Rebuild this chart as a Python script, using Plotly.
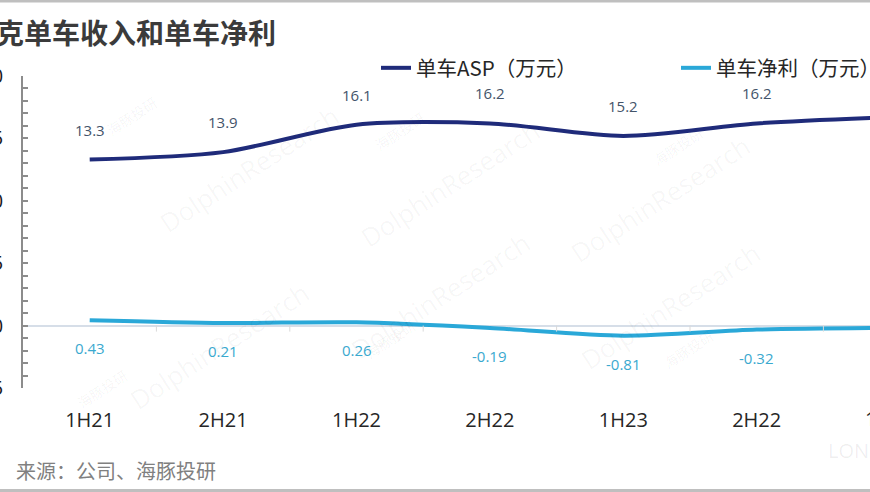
import plotly.graph_objects as go

# ---------------- data ----------------
periods = ["1H21", "2H21", "1H22", "2H22", "1H23", "2H22", "1H24"]
asp = [13.3, 13.9, 16.1, 16.2, 15.2, 16.2, 16.7]          # 单车ASP（万元）
net = [0.43, 0.21, 0.26, -0.19, -0.81, -0.32, -0.18]     # 单车净利（万元）
asp_labels = ["13.3", "13.9", "16.1", "16.2", "15.2", "16.2", "16.7"]
net_labels = ["0.43", "0.21", "0.26", "-0.19", "-0.81", "-0.32", "-0.18"]
y_ticks = [-5, 0, 5, 10, 15, 20]

title_text = "领克单车收入和单车净利"
source_text = "来源：公司、海豚投研"
name_asp = "单车ASP（万元）"
name_net = "单车净利（万元）"

# ---------------- layout geometry ----------------
W, H = 870, 492
ML, MR, MT, MB = 23, 0, 76, 104
PW = W - ML - MR
PH = H - MT - MB
STEP = 133.4                     # px per category
X0 = -0.5
X1 = X0 + PW / STEP

def px_x(p):
    return (p - ML) / PW

def px_y(p):
    return (H - MB - p) / PH

FONT = "Open Sans, Noto Sans CJK SC, sans-serif"
CJK = "Noto Sans CJK SC"
C_ASP = "#1f2b7a"
C_NET = "#2aa8d8"
idx = list(range(len(periods)))

fig = go.Figure()
fig.add_trace(go.Scatter(x=idx, y=asp, name=name_asp, mode="lines", legend="legend",
                         line=dict(color=C_ASP, width=4, shape="spline", smoothing=0.8)))
fig.add_trace(go.Scatter(x=idx, y=net, name=name_net, mode="lines", legend="legend2",
                         line=dict(color=C_NET, width=4, shape="spline", smoothing=0.8)))

ann = []
# watermarks (drawn first, very faint)
wm_pos = [(150, 95), (450, 110), (760, 125), (120, 420), (440, 370), (770, 380)]
for (wx, wy) in wm_pos:
    ann.append(dict(x=px_x(wx), y=px_y(wy), xref="paper", yref="paper", text="DolphinResearch",
                    showarrow=False, textangle=-33,
                    font=dict(size=26, color="rgba(0,0,0,0.04)", family=FONT)))
    ann.append(dict(x=px_x(wx - 50), y=px_y(wy - 5), xref="paper", yref="paper", text="海豚投研",
                    showarrow=False, textangle=-33,
                    font=dict(size=14, color="rgba(0,0,0,0.045)", family=CJK)))
ann.append(dict(x=px_x(826), y=px_y(466), xref="paper", yref="paper", text="LONGBRIDGE",
                showarrow=False, xanchor="left",
                font=dict(size=20, color="rgba(0,0,0,0.07)", family=FONT)))

for i in idx:
    ann.append(dict(x=i, y=asp[i], xref="x", yref="y", text=asp_labels[i], showarrow=False,
                    yshift=30, font=dict(size=15, color="#44546a", family=FONT)))
    ann.append(dict(x=i, y=net[i], xref="x", yref="y", text=net_labels[i], showarrow=False,
                    yshift=-28, font=dict(size=15, color="#3aa9cf", family=FONT)))

# last category tick label (its tick lies just beyond the visible range)
last = len(periods) - 1
ann.append(dict(x=(last - X0) / (X1 - X0), y=px_y(418), xref="paper", yref="paper",
                text=periods[last], showarrow=False, xanchor="center", yanchor="middle",
                font=dict(size=20, color="#262626", family=FONT)))

# title and source
ann.append(dict(x=px_x(278), y=px_y(32), xref="paper", yref="paper", text="<b>" + title_text + "</b>",
                showarrow=False, xanchor="right", yanchor="middle",
                font=dict(size=28, color="#3b3b3b", family=CJK)))
ann.append(dict(x=px_x(14), y=px_y(470), xref="paper", yref="paper", text=source_text,
                showarrow=False, xanchor="left", yanchor="middle",
                font=dict(size=20, color="#808080", family=CJK)))

shapes = []
# category boundary ticks on the zero line
for i in idx[:-1]:
    shapes.append(dict(type="line", xref="x", yref="y", x0=i + 0.5, x1=i + 0.5,
                       ysizemode="pixel", yanchor=0, y0=0, y1=-6,
                       line=dict(color="#d9d9d9", width=1)))
# frame lines top and bottom
shapes.append(dict(type="line", xref="paper", yref="paper", x0=px_x(0), x1=px_x(W),
                   y0=px_y(1), y1=px_y(1), line=dict(color="#bfbfbf", width=3)))
shapes.append(dict(type="line", xref="paper", yref="paper", x0=px_x(0), x1=px_x(W),
                   y0=px_y(490.5), y1=px_y(490.5), line=dict(color="#bfbfbf", width=3)))

leg_font = dict(size=20.5, color="#262626", family=CJK)
fig.update_layout(
    width=W, height=H, autosize=False,
    margin=dict(l=ML, r=MR, t=MT, b=MB, pad=0, autoexpand=False),
    paper_bgcolor="white", plot_bgcolor="white",
    font=dict(family=FONT, color="#262626"),
    showlegend=True,
    legend=dict(orientation="h", x=px_x(376), y=px_y(68), xanchor="left", yanchor="middle",
                font=leg_font, bgcolor="rgba(0,0,0,0)"),
    legend2=dict(orientation="h", x=px_x(676), y=px_y(68), xanchor="left", yanchor="middle",
                 font=leg_font, bgcolor="rgba(0,0,0,0)"),
    xaxis=dict(range=[X0, X1], tickmode="array", tickvals=idx, ticktext=periods,
               showline=False, showgrid=False, zeroline=False, ticks="", automargin=False,
               tickfont=dict(size=20, color="#262626"), ticklabelstandoff=18),
    yaxis=dict(range=[-5, 20], tickmode="array", tickvals=y_ticks, automargin=False,
               showline=True, linecolor="#8c8c8c", linewidth=1.5,
               ticks="inside", ticklen=5, tickcolor="#8c8c8c", tickwidth=1.5,
               minor=dict(dtick=1, ticks="inside", ticklen=5, tickcolor="#8c8c8c", tickwidth=1.5),
               showgrid=False, zeroline=True, zerolinecolor="#d6dee8", zerolinewidth=1.5,
               tickfont=dict(size=20, color="#1a1a1a"), ticklabelstandoff=14),
    annotations=ann, shapes=shapes,
)

fig.write_html("out.html")
